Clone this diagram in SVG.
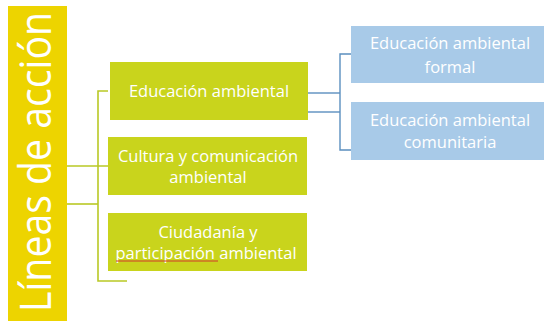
<svg xmlns="http://www.w3.org/2000/svg" width="544" height="321" viewBox="0 0 544 321">
<style>
.g{fill:#C9D41C}
.b{fill:#A8CAE8}
.t{font-family:"Open Sans","Liberation Sans",sans-serif;font-size:16.5px;fill:#ffffff;text-anchor:middle}
.lg{stroke:#B9C925;stroke-width:1.6;fill:none}
.lb{stroke:#5B8FBF;stroke-width:1.4;fill:none}
</style>
<rect width="544" height="321" fill="#ffffff"/>
<g id="title">
<rect x="8" y="6" width="59" height="315" fill="#EDD400"/>
<text transform="translate(51,162) rotate(-90)" x="0" y="0" font-family="Open Sans, Liberation Sans, sans-serif" font-size="43" fill="#ffffff" text-anchor="middle" textLength="300" lengthAdjust="spacingAndGlyphs">Líneas de acción</text>
</g>
<g id="connectors">
<path class="lg" d="M108,91 H98 V281 H127"/>
<path class="lg" d="M67,166 H108"/>
<path class="lg" d="M67,204 H98"/>
<path class="lb" d="M351,54 H340 V150 H351"/>
<path class="lb" d="M308,93 H340"/>
<path class="lb" d="M308,112 H340"/>
</g>
<g id="n1">
<rect class="g" x="110" y="62" width="198" height="58"/>
<text class="t" x="209" y="97">Educación ambiental</text>
</g>
<g id="n2">
<rect class="g" x="108" y="137" width="199" height="58"/>
<text class="t" x="208" y="162">Cultura y comunicación</text>
<text class="t" x="208" y="183">ambiental</text>
</g>
<g id="n3">
<rect class="g" x="108" y="213" width="199" height="58"/>
<text class="t" x="208" y="238">Ciudadanía y</text>
<text class="t" x="206" y="259">participación ambiental</text>
<path d="M116,261 H218" stroke="#D23A2A" stroke-width="1.2" fill="none"/>
</g>
<g id="n4">
<rect class="b" x="351" y="26" width="193" height="57"/>
<text class="t" x="450" y="49">Educación ambiental</text>
<text class="t" x="450" y="73">formal</text>
</g>
<g id="n5">
<rect class="b" x="351" y="102" width="193" height="58"/>
<text class="t" x="450" y="126">Educación ambiental</text>
<text class="t" x="450" y="148">comunitaria</text>
</g>
</svg>
